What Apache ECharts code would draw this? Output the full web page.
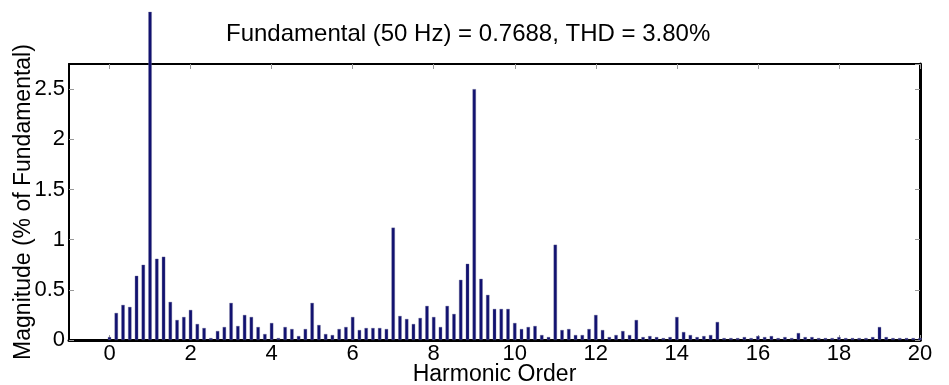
<!DOCTYPE html>
<html>
<head>
<meta charset="utf-8">
<script src="https://cdn.jsdelivr.net/npm/echarts@6/dist/echarts.min.js"></script>
<style>
  html, body { margin: 0; padding: 0; background: #fff; }
  #chart { width: 949px; height: 385px; }
</style>
</head>
<body>
<div id="chart"></div>
<script>
// harmonic spectrum, one bar every 1/6 of a harmonic order (0 .. 20)
const binsPerOrder = 6;
const magnitudes = [
  0.03, 0.27, 0.35, 0.33, 0.64, 0.75, 3.27, 0.81, 0.83, 0.38, 0.20, 0.23,
  0.30, 0.16, 0.12, 0.02, 0.09, 0.13, 0.37, 0.14, 0.25, 0.23, 0.13, 0.06,
  0.17, 0.02, 0.13, 0.11, 0.04, 0.11, 0.37, 0.15, 0.06, 0.05, 0.11, 0.13,
  0.23, 0.10, 0.12, 0.12, 0.12, 0.11, 1.12, 0.24, 0.21, 0.16, 0.22, 0.34,
  0.23, 0.13, 0.34, 0.26, 0.60, 0.76, 2.50, 0.61, 0.45, 0.31, 0.31, 0.31,
  0.17, 0.11, 0.13, 0.14, 0.05, 0.03, 0.95, 0.10, 0.11, 0.05, 0.05, 0.11,
  0.25, 0.10, 0.03, 0.05, 0.09, 0.05, 0.20, 0.03, 0.04, 0.03, 0.02, 0.03,
  0.23, 0.08, 0.05, 0.03, 0.04, 0.05, 0.18, 0.02, 0.02, 0.02, 0.03, 0.02,
  0.04, 0.03, 0.04, 0.02, 0.03, 0.02, 0.07, 0.03, 0.03, 0.02, 0.02, 0.02,
  0.03, 0.02, 0.02, 0.02, 0.02, 0.03, 0.13, 0.03, 0.02, 0.02, 0.02, 0.02,
  0.02
];
const xTicks = [0, 2, 4, 6, 8, 10, 12, 14, 16, 18, 20];
const titleText = "Fundamental (50 Hz) = 0.7688, THD = 3.80%";

const font = "Liberation Sans, Arial, sans-serif";
const chart = echarts.init(document.getElementById("chart"));

const tickStyle = { show: true, inside: true, length: 5, lineStyle: { color: "#999", width: 1 } };

chart.setOption({
  animation: false,
  title: {
    text: titleText,
    left: 221,
    top: 17,
    textStyle: { fontFamily: font, fontSize: 24, fontWeight: "normal", color: "#000" },
  },
  grid: { left: 69, right: 29, top: 64, bottom: 45, containLabel: false, outerBoundsMode: "none" },
  xAxis: [
    {
      type: "value",
      min: -1,
      max: 20,
      name: "Harmonic Order",
      nameLocation: "middle",
      nameGap: 23,
      nameMoveOverlap: false,
      nameTextStyle: { fontFamily: font, fontSize: 23, color: "#000" },
      axisLine: { show: true, onZero: false, lineStyle: { color: "#000", width: 3 } },
      axisTick: Object.assign({ customValues: xTicks }, tickStyle),
      axisLabel: { customValues: xTicks, fontFamily: font, fontSize: 22, color: "#000", margin: 3 },
      splitLine: { show: false },
    },
    {
      type: "value",
      position: "top",
      min: -1,
      max: 20,
      axisLine: { show: true, onZero: false, lineStyle: { color: "#000", width: 2 } },
      axisTick: Object.assign({ customValues: xTicks }, tickStyle),
      axisLabel: { show: false },
      splitLine: { show: false },
    },
  ],
  yAxis: [
    {
      type: "value",
      min: 0,
      max: 2.75,
      interval: 0.5,
      name: "Magnitude (% of Fundamental)",
      nameLocation: "middle",
      nameGap: 34,
      nameMoveOverlap: false,
      nameTextStyle: { fontFamily: font, fontSize: 23, color: "#000" },
      axisLine: { show: true, onZero: false, lineStyle: { color: "#000", width: 2 } },
      axisTick: tickStyle,
      axisLabel: { fontFamily: font, fontSize: 22, color: "#000", margin: 4, showMaxLabel: false },
      splitLine: { show: false },
    },
    {
      type: "value",
      position: "right",
      min: 0,
      max: 2.75,
      interval: 0.5,
      axisLine: { show: true, onZero: false, lineStyle: { color: "#000", width: 3 } },
      axisTick: tickStyle,
      axisLabel: { show: false },
      splitLine: { show: false },
    },
  ],
  series: [
    {
      type: "bar",
      xAxisIndex: 0,
      yAxisIndex: 0,
      clip: false,
      barWidth: 3.5,
      itemStyle: { color: "#111170", borderColor: "rgba(110,110,150,0.7)", borderWidth: 0.5 },
      data: magnitudes.map((v, i) => [i / binsPerOrder, v]),
    },
  ],
});
</script>
</body>
</html>
